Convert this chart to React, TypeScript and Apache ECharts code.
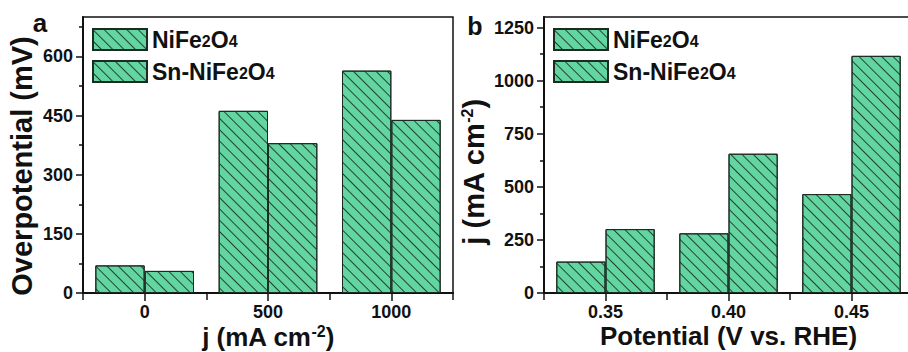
import React, { useEffect, useRef } from 'react';
import * as echarts from 'echarts';

const catsA = ['0', '500', '1000'];
const niA = [70, 462, 564];
const snA = [56, 380, 439];
const majorA = [0, 150, 300, 450, 600];
const minorA = [75, 225, 375, 525, 675];

const catsB = ['0.35', '0.40', '0.45'];
const niB = [148, 281, 466];
const snB = [301, 656, 1117];
const majorB = [0, 250, 500, 750, 1000, 1250];
const minorB = [125, 375, 625, 875, 1125];

const seriesNames = ['NiFe2O4', 'Sn-NiFe2O4'];

const FONT = '"Liberation Sans", Arial, Helvetica, sans-serif';
const INK = '#111';
const FILL = '#62d5a0';

const decal = {
  symbol: 'rect',
  symbolSize: 1,
  color: 'rgba(25,50,38,0.9)',
  dashArrayX: [1, 0],
  dashArrayY: [1, 6.5],
  rotation: Math.PI / 4,
};

function App() {
  const ref = useRef<HTMLDivElement>(null);
  useEffect(() => {
    if (!ref.current) return;
    const chart = echarts.init(ref.current, undefined, { renderer: 'svg' });

    const labelStyle = { fontSize: 18, fontWeight: 'bold', color: INK, fontFamily: FONT };
    const mkName = (size: number) => ({
      fontSize: size,
      fontWeight: 'bold',
      color: INK,
      fontFamily: FONT,
      rich: { sup: { fontSize: 16, fontWeight: 'bold', color: INK, fontFamily: FONT, padding: [0, 0, 12, 0] } },
    });

    const catAxis = (gi: number, data: string[], name: string, gap: number) => [
      {
        gridIndex: gi,
        type: 'category',
        data,
        position: 'bottom',
        axisLine: { lineStyle: { color: INK, width: 2 } },
        axisTick: { show: true, alignWithLabel: false, interval: 0, length: 7, lineStyle: { color: INK, width: 1.5 } },
        axisLabel: { ...labelStyle, margin: 10, interval: 0 },
        name,
        nameLocation: 'middle',
        nameGap: gap,
        nameMoveOverlap: false,
        nameTextStyle: mkName(26),
        splitLine: { show: false },
      },
      {
        gridIndex: gi,
        type: 'category',
        data,
        position: 'bottom',
        offset: 0,
        axisLine: { show: false },
        axisTick: { show: true, alignWithLabel: true, interval: 0, length: 8, lineStyle: { color: INK, width: 1.5 } },
        axisLabel: { show: false },
        splitLine: { show: false },
      },
    ];

    const valAxis = (gi: number, max: number, interval: number, major: number[], minor: number[], minorInt: number, name: string, gap: number, pad: number[]) => [
      {
        gridIndex: gi,
        type: 'value',
        position: 'left',
        min: 0,
        max,
        interval,
        axisLine: { show: true, lineStyle: { color: INK, width: 2 } },
        axisTick: { show: true, length: 7, customValues: major, lineStyle: { color: INK, width: 1.5 } },
        axisLabel: {
          ...labelStyle,
          margin: 10,
          customValues: major,
          formatter: (v: number) => (major.indexOf(v) >= 0 ? String(v) : ''),
        },
        splitLine: { show: false },
        name,
        nameLocation: 'middle',
        nameGap: gap,
        nameMoveOverlap: false,
        nameTextStyle: { ...mkName(29), padding: pad },
      },
      {
        gridIndex: gi,
        type: 'value',
        position: 'left',
        offset: 0,
        min: 0,
        max,
        interval: minorInt,
        axisLine: { show: false },
        axisTick: { show: true, length: 4, customValues: minor, lineStyle: { color: INK, width: 1.5 } },
        axisLabel: { show: false },
        splitLine: { show: false },
      },
    ];

    const barStyle = { color: FILL, borderColor: '#1c2a22', borderWidth: 1, decal };

    const mkSeries = (name: string, data: number[], xi: number, yi: number) => ({
      type: 'bar',
      name,
      data,
      xAxisIndex: xi,
      yAxisIndex: yi,
      barGap: '0%',
      barCategoryGap: '20%',
      itemStyle: barStyle,
    });

    const legendFmt = (n: string) => (n === 'NiFe2O4' ? 'NiFe{s|2}O{s|4}' : 'Sn-NiFe{s|2}O{s|4}');
    const legendBase = {
      orient: 'vertical',
      top: 23,
      icon: 'rect',
      itemWidth: 54,
      itemHeight: 21,
      itemGap: 9,
      selectedMode: false,
      data: seriesNames.map((n) => ({ name: n, icon: 'rect' })),
      formatter: legendFmt,
      textStyle: {
        fontSize: 23,
        fontWeight: 'bold',
        color: INK,
        fontFamily: FONT,
        lineHeight: 21,
        rich: { s: { fontSize: 16, fontWeight: 'bold', color: INK, fontFamily: FONT, lineHeight: 21, padding: [4, 0, 0, 0] } },
      },
    };

    chart.setOption({
      animation: false,
      backgroundColor: '#fff',
      grid: [
        { left: 83, top: 17, width: 370, height: 276, show: true, borderColor: INK, borderWidth: 1.5, containLabel: false, outerBoundsMode: 'none' },
        { left: 544, top: 17, width: 369, height: 276, show: true, borderColor: INK, borderWidth: 1.5, containLabel: false, outerBoundsMode: 'none' },
      ],
      xAxis: [
        ...catAxis(0, catsA, 'j (mA cm{sup|-2})', 30),
        ...catAxis(1, catsB, 'Potential (V vs. RHE)', 30),
      ],
      yAxis: [
        ...valAxis(0, 700, 150, majorA, minorA, 75, 'Overpotential (mV)', 47, [0, 22, 0, 0]),
        ...valAxis(1, 1300, 250, majorB, minorB, 125, 'j (mA cm{sup|-2})', 56, [0, 34, 0, 0]),
      ],
      legend: [
        { ...legendBase, left: 87 },
        { ...legendBase, left: 548 },
      ],
      series: [
        mkSeries(seriesNames[0], niA, 0, 0),
        mkSeries(seriesNames[1], snA, 0, 0),
        mkSeries(seriesNames[0], niB, 2, 2),
        mkSeries(seriesNames[1], snB, 2, 2),
      ],
      graphic: [
        { type: 'text', x: 40, y: 23, style: { text: 'a', fontSize: 26, fontWeight: 'bold', fontFamily: FONT, fill: INK, align: 'center', verticalAlign: 'middle' } },
        { type: 'text', x: 475, y: 26, style: { text: 'b', fontSize: 25, fontWeight: 'bold', fontFamily: FONT, fill: INK, align: 'center', verticalAlign: 'middle' } },
      ],
    });

    return () => chart.dispose();
  }, []);

  return <div ref={ref} style={{ position: 'fixed', left: 0, top: 0, width: 908, height: 352 }} />;
}

export default App;
